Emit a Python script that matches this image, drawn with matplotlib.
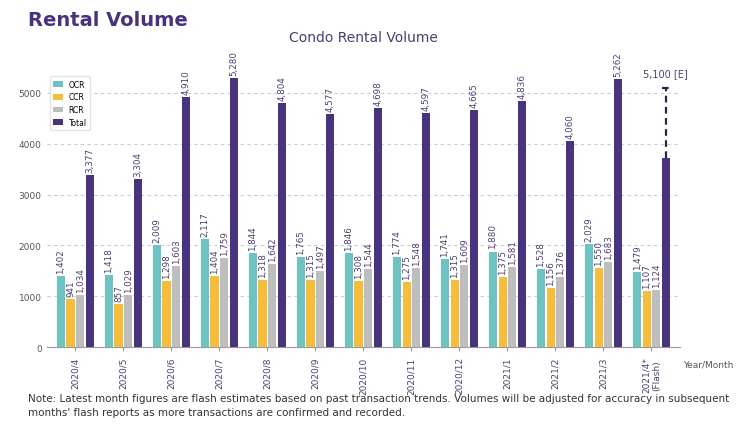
import matplotlib
matplotlib.use("Agg")
import matplotlib.pyplot as plt
import numpy as np

months = ["2020/4","2020/5","2020/6","2020/7","2020/8","2020/9","2020/10","2020/11","2020/12","2021/1","2021/2","2021/3","2021/4*\n(Flash)"]
ocr = [1402,1418,2009,2117,1844,1765,1846,1774,1741,1880,1528,2029,1479]
ccr = [941,857,1298,1404,1318,1315,1308,1275,1315,1375,1156,1550,1107]
rcr = [1034,1029,1603,1759,1642,1497,1544,1548,1609,1581,1376,1683,1124]
total = [3377,3304,4910,5280,4804,4577,4698,4597,4665,4836,4060,5262,3710]
estimate = 5100

purple = "#47337E"
txt = "#4B3F72"
colors = ["#6DC3C3", "#F4BD3B", "#BEBEBE", purple]
fig = plt.figure(figsize=(7.5, 4.31), dpi=100)
ax = fig.add_axes([0.062, 0.192, 0.845, 0.685])
x = np.arange(len(months))
step = 0.2
w = 0.17
series = [("OCR", ocr), ("CCR", ccr), ("RCR", rcr), ("Total", total)]
for i, (name, vals) in enumerate(series):
    pos = x + (i - 1.5) * step
    ax.bar(pos, vals, w, color=colors[i], label=name, zorder=3)
    for j, (p, v) in enumerate(zip(pos, vals)):
        if name == "Total" and j == len(months) - 1:
            continue
        ax.text(p, v + 60, f"{v:,}", rotation=90, ha="center", va="bottom", fontsize=6.3, color=txt)
px = x[-1] + 1.5 * step
ax.plot([px, px], [total[-1], estimate], ls=(0, (3, 2)), color="#1F2A44", lw=1.6, zorder=4)
ax.plot([px - w / 2, px + w / 2], [estimate, estimate], ls=(0, (3, 2)), color="#1F2A44", lw=1.6, zorder=4)
ax.text(px, estimate + 180, "5,100 [E]", ha="center", va="bottom", fontsize=7, color=txt)

ax.set_ylim(0, 5800)
ax.set_xlim(-0.6, len(months) - 0.4)
ax.set_yticks(range(0, 6000, 1000))
ax.tick_params(axis="y", labelsize=6.5, colors="#555555", length=0)
ax.set_xticks(x)
ax.set_xticklabels(months, rotation=90, fontsize=6.5, color=txt)
ax.tick_params(axis="x", length=3, color="#999999")
ax.grid(axis="y", ls=(0, (3, 3)), color="#CCCCCC", lw=0.8, zorder=0)
for s in ["top", "right", "left"]:
    ax.spines[s].set_visible(False)
ax.spines["bottom"].set_color("#999999")
ax.set_title("Condo Rental Volume", fontsize=10, color=txt, pad=8)
ax.legend(loc="upper left", bbox_to_anchor=(0.0, 0.93), fontsize=5.5, frameon=True, edgecolor="#DDDDDD",
          handlelength=1.2, handleheight=0.8)
ax.text(1.005, -0.04, "Year/Month", transform=ax.transAxes, fontsize=6.5, color="#555555", va="top")
fig.text(0.037, 0.94, "Rental Volume", fontsize=14, fontweight="bold", color=purple)
fig.text(0.037, 0.085, "Note: Latest month figures are flash estimates based on past transaction trends. Volumes will be adjusted for accuracy in subsequent\nmonths' flash reports as more transactions are confirmed and recorded.",
         fontsize=7.5, color="#333333", va="top", linespacing=1.4)
fig.savefig("out.png", dpi=100)
